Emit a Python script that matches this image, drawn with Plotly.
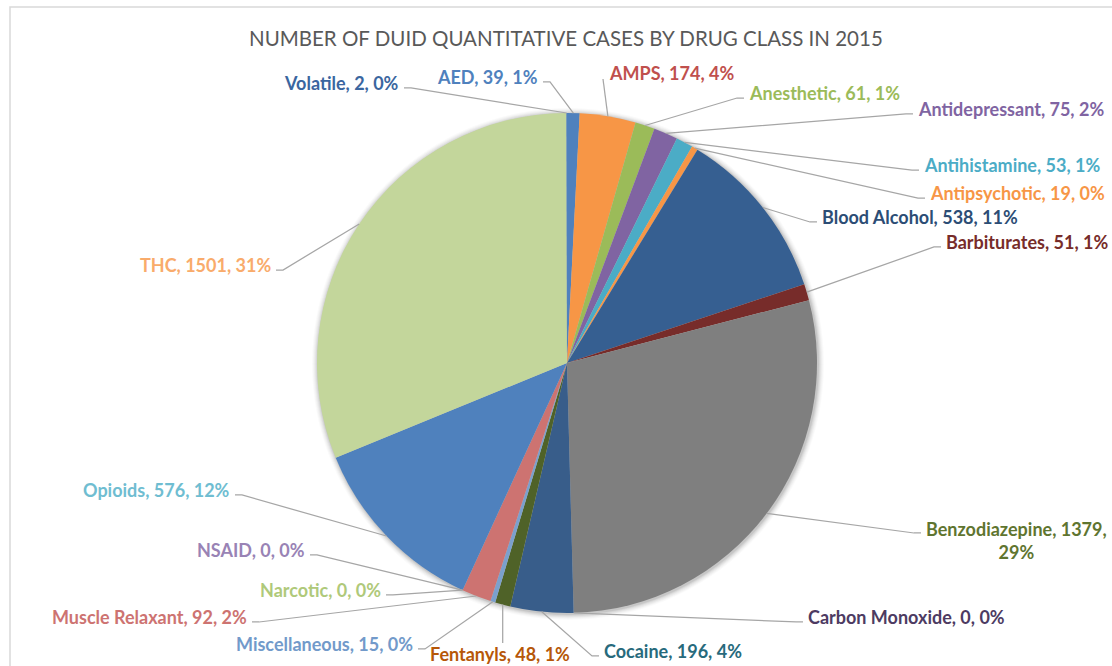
import math
import plotly.graph_objects as go

# Page size in pixels
W, H = 1112, 666

# ---- data -------------------------------------------------------------
classes = [
    "AED", "AMPS", "Anesthetic", "Antidepressant", "Antihistamine",
    "Antipsychotic", "Blood Alcohol", "Barbiturates", "Benzodiazepine",
    "Carbon Monoxide", "Cocaine", "Fentanyls", "Miscellaneous",
    "Muscle Relaxant", "Narcotic", "NSAID", "Opioids", "THC", "Volatile",
]
cases = [39, 174, 61, 75, 53, 19, 538, 51, 1379, 0, 196, 48, 15, 92, 0, 0, 576, 1501, 2]

title_text = "NUMBER OF DUID QUANTITATIVE CASES BY DRUG CLASS IN 2015"

# ---- styling ----------------------------------------------------------
slice_colors = [
    "#4F81BD", "#F79646", "#9BBB59", "#8064A2", "#4BACC6",
    "#F79646", "#365F91", "#772C2A", "#7F7F7F",
    "#4D3B62", "#385D8A", "#4F6228", "#7BA0CD",
    "#CD7371", "#AFC97A", "#9983B5", "#4F81BD", "#C3D69B", "#4F81BD",
]
label_colors = [
    "#4F81BD", "#C0504D", "#9BBB59", "#8064A2", "#4BACC6",
    "#F79646", "#2C4D75", "#772C2A", "#5F7530",
    "#4D3B62", "#276A7C", "#B65708", "#729ACA",
    "#CD7371", "#AFC97A", "#9983B5", "#6FBDD1", "#F9AB6B", "#3A66A0",
]

FONT = "Lato"
LABEL_SIZE = 18
LINE_COLOR = "#A6A6A6"

# pie geometry (pixels)
CX, CY, R = 567, 363, 250

# label placement: (x, y_center, side, attach)
#   side "r": text starts at x (label to the right of its leader)
#   side "l": text ends at x (label to the left of its leader)
#   side "c": text centred on x
#   attach: "side" = short horizontal tail, "top" = leader meets text top,
#           "corner" = leader meets the lower-left corner directly
label_layout = {
    "Volatile":        (401, 83, "l", "side"),
    "AED":             (540, 77, "l", "side"),
    "AMPS":            (607, 73, "r", "corner"),
    "Anesthetic":      (747, 93, "r", "side"),
    "Antidepressant":  (916, 109, "r", "side"),
    "Antihistamine":   (922, 165, "r", "side"),
    "Antipsychotic":   (928, 193, "r", "side"),
    "Blood Alcohol":   (820, 217, "r", "side"),
    "Barbiturates":    (944, 242, "r", "side"),
    "Benzodiazepine":  (924, 528, "r", "side"),
    "Carbon Monoxide": (806, 617, "r", "side"),
    "Cocaine":         (602, 651, "r", "side"),
    "Fentanyls":       (500, 654, "c", "top"),
    "Miscellaneous":   (415, 644, "l", "side"),
    "Muscle Relaxant": (249, 617, "l", "side"),
    "Narcotic":        (383, 590, "l", "side"),
    "NSAID":           (307, 550, "l", "side"),
    "Opioids":         (232, 490, "l", "side"),
    "THC":             (273, 265, "l", "side"),
}


def px(x):
    return x / W


def py(y):
    return 1 - y / H


total = sum(cases)

fig = go.Figure()

fig.add_trace(go.Pie(
    labels=classes,
    values=cases,
    sort=False,
    direction="clockwise",
    rotation=0,
    textinfo="none",
    hoverinfo="label+value+percent",
    marker=dict(colors=slice_colors, line=dict(width=0)),
    domain=dict(x=[px(CX - R), px(CX + R)], y=[py(CY + R), py(CY - R)]),
    showlegend=False,
))

shapes = []
annotations = []

# outer frame of the chart area
shapes.append(dict(
    type="rect", xref="paper", yref="paper",
    x0=px(10), x1=px(W + 20), y0=py(H + 20), y1=py(7),
    line=dict(color="#D9D9D9", width=1.5), fillcolor="rgba(0,0,0,0)",
    layer="below",
))

# soft shadow behind the pie
for k, a in [(6, 0.02), (5, 0.025), (4, 0.03), (3, 0.04), (2, 0.05), (1, 0.07)]:
    shapes.append(dict(
        type="circle", xref="paper", yref="paper",
        x0=px(CX - R - k + 1), x1=px(CX + R + k + 1),
        y0=py(CY + R + k + 1), y1=py(CY - R - k + 1),
        line=dict(width=0), fillcolor=f"rgba(0,0,0,{a})", layer="below",
    ))

# data labels with leader lines
cum = 0
for name, v, lc in zip(classes, cases, label_colors):
    pct = round(v / total * 100)
    mid = (cum + v / 2) / total * 2 * math.pi
    cum += v
    ex = CX + R * math.sin(mid)
    ey = CY - R * math.cos(mid)

    x, y, side, attach = label_layout[name]
    if name == "Benzodiazepine":
        text = f"{name}, {v},<br>{pct}%"
    else:
        text = f"{name}, {v}, {pct}%"

    if side == "r":
        xanchor = "left"
        ax_, ay_ = x - 3, y + 5
        elbow = (ax_ - 7, ay_)
    elif side == "l":
        xanchor = "right"
        ax_, ay_ = x + 3, y + 5
        elbow = (ax_ + 7, ay_)
    else:
        xanchor = "center"
        ax_, ay_ = ex, y - 11
        elbow = (ax_, ay_)

    if attach == "corner":
        ax_, ay_ = x - 4, y + 6
        elbow = (ax_, ay_)
    elif attach == "top":
        ax_, ay_ = ex, y - 11
        elbow = (ax_, ay_)

    yanchor = "top" if name == "Benzodiazepine" else "middle"
    ty = y - 12 if name == "Benzodiazepine" else y

    annotations.append(dict(
        x=px(x), y=py(ty), xref="paper", yref="paper",
        text=text, showarrow=False, xanchor=xanchor, yanchor=yanchor,
        align="center",
        font=dict(family=FONT, size=LABEL_SIZE, color=lc, weight="bold"),
    ))

    path = (f"M {px(ex):.5f},{py(ey):.5f} "
            f"L {px(elbow[0]):.5f},{py(elbow[1]):.5f} "
            f"L {px(ax_):.5f},{py(ay_):.5f}")
    shapes.append(dict(
        type="path", xref="paper", yref="paper", path=path,
        line=dict(color=LINE_COLOR, width=1.25), layer="above",
    ))

# chart title
annotations.append(dict(
    x=px(566), y=py(38), xref="paper", yref="paper",
    text=title_text, showarrow=False, xanchor="center", yanchor="middle",
    font=dict(family=FONT, size=20.5, color="#595959"),
))

fig.update_layout(
    width=W, height=H,
    margin=dict(l=0, r=0, t=0, b=0),
    paper_bgcolor="white", plot_bgcolor="white",
    shapes=shapes, annotations=annotations,
    showlegend=False,
)

fig.write_html("out.html")
